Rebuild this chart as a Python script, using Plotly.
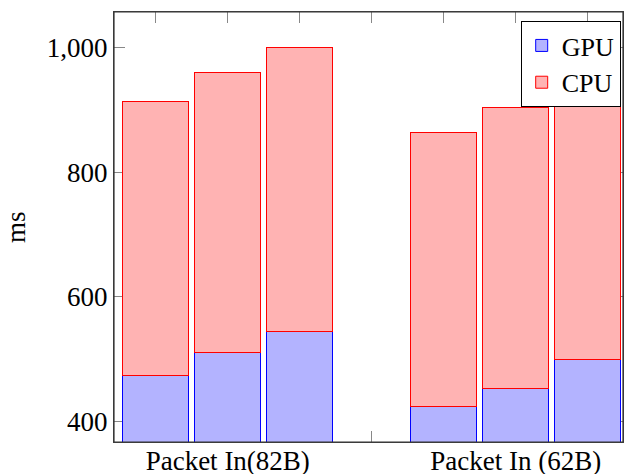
import plotly.graph_objects as go

positions = [1, 2, 3, 5, 6, 7]
tick_positions = [1, 2, 3, 4, 5, 6, 7]
tick_labels = ["", "Packet In(82B)", "", "", "", "Packet In (62B)", ""]
gpu = [474, 510, 545, 424, 453, 500]
cpu = [440, 450, 455, 440, 450, 455]
y_ticks = [400, 600, 800, 1000]
y_tick_labels = ["400", "600", "800", "1,000"]

FONT = "Liberation Serif, Times New Roman, serif"

fig = go.Figure()
fig.add_trace(go.Bar(
    x=positions, y=gpu, name="GPU", width=0.92,
    marker=dict(color="rgb(179,179,255)", line=dict(color="blue", width=1)),
))
fig.add_trace(go.Bar(
    x=positions, y=cpu, name="CPU", width=0.92,
    marker=dict(color="rgb(255,179,179)", line=dict(color="red", width=1)),
))

fig.update_layout(
    width=625, height=474,
    margin=dict(l=114, r=2, t=12, b=32, autoexpand=False),
    barmode="stack",
    plot_bgcolor="white", paper_bgcolor="white",
    font=dict(family=FONT, size=27, color="black"),
    showlegend=True,
    legend=dict(
        x=0.799, y=0.979, xanchor="left", yanchor="top",
        bordercolor="black", borderwidth=1, bgcolor="white",
        traceorder="normal", font=dict(size=26),
        tracegroupgap=0, itemwidth=30,
    ),
    xaxis=dict(
        range=[0.42, 7.49], tickvals=tick_positions, ticktext=tick_labels,
        ticks="inside", ticklen=11, tickwidth=1, tickcolor="#888888",
        mirror="allticks", showline=True, linecolor="#444444", linewidth=1,
        showgrid=False, zeroline=False, layer="below traces",
        tickfont=dict(size=27), ticklabelstandoff=-5,
    ),
    yaxis=dict(
        range=[367, 1057], tickvals=y_ticks, ticktext=y_tick_labels,
        ticks="inside", ticklen=11, tickwidth=1, tickcolor="#888888",
        mirror="allticks", showline=True, linecolor="#444444", linewidth=1,
        showgrid=False, zeroline=False, layer="below traces",
        tickfont=dict(size=27),
    ),
    shapes=[dict(
        type="rect", xref="paper", yref="paper", x0=0, y0=0, x1=1, y1=1,
        line=dict(color="#333333", width=1.2), layer="above",
    )],
    annotations=[dict(
        text="ms", xref="paper", yref="paper", x=-0.1925, y=0.5,
        xanchor="center", yanchor="middle", textangle=-90, showarrow=False,
        font=dict(size=27),
    )],
)

fig.write_html(
    "out.html",
    config={"displayModeBar": False},
    post_script="document.body.style.margin='0';document.body.style.overflow='hidden';",
)
